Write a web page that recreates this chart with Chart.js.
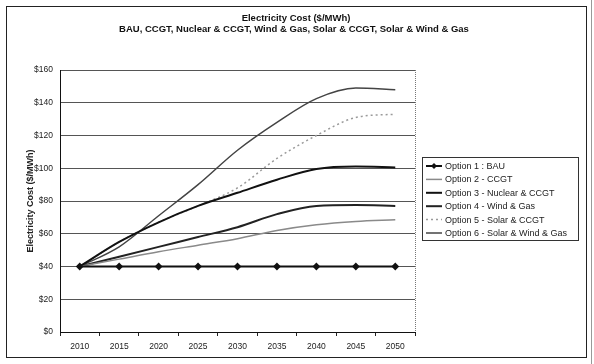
<!DOCTYPE html>
<html>
<head>
<meta charset="utf-8">
<script src="https://cdn.jsdelivr.net/npm/chart.js@4/dist/chart.umd.min.js"></script>
<style>
html,body{margin:0;padding:0;background:#fff;}
#wrap{width:594px;height:364px;position:relative;}
</style>
</head>
<body>
<div id="wrap"><canvas id="c" width="594" height="364"></canvas></div>
<script>
const years = ['2010','2015','2020','2025','2030','2035','2040','2045','2050'];
const bau = [40,40,40,40,40,40,40,40,40];
const ccgt = [40,44.5,49,53,57,62,65.5,67.5,68.5];
const nuclearCcgt = [40,55,67,77,85,93,99.5,101,100.5];
const windGas = [40,46,52,58,64,72,77,77.5,77];
const solarCcgt = [40,55,67,77,88,106,120,131,133];
const solarWindGas = [40,52,71,90,111,128,142.5,149,148];
const seriesLabels = ['Option 1 : BAU','Option 2 - CCGT','Option 3 - Nuclear & CCGT','Option 4 - Wind & Gas','Option 5 - Solar & CCGT','Option 6 - Solar & Wind & Gas'];
const yTicks = [0,20,40,60,80,100,120,140,160];
const titleLines = ['Electricity Cost ($/MWh)','BAU, CCGT, Nuclear & CCGT, Wind & Gas, Solar & CCGT, Solar & Wind & Gas'];
const yTitle = 'Electricity Cost ($/MWh)';

const FONT = 'Liberation Sans, Arial, sans-serif';

const decor = {
  id: 'decor',
  beforeDraw(chart) {
    const ctx = chart.ctx;
    ctx.save();
    ctx.fillStyle = '#fff';
    ctx.fillRect(0, 0, chart.width, chart.height);
    ctx.restore();
  },
  afterDraw(chart) {
    const ctx = chart.ctx;
    const a = chart.chartArea;
    ctx.save();
    // plot right border (dotted)
    ctx.strokeStyle = '#777';
    ctx.lineWidth = 1;
    ctx.setLineDash([1, 1]);
    ctx.beginPath();
    ctx.moveTo(Math.round(a.right) + 0.5, a.top);
    ctx.lineTo(Math.round(a.right) + 0.5, a.bottom);
    ctx.stroke();
    ctx.setLineDash([]);
    // outer chart border
    ctx.strokeStyle = '#222';
    ctx.strokeRect(6.5, 6.5, 580, 351);
    // scan edge line
    ctx.strokeStyle = '#999';
    ctx.beginPath();
    ctx.moveTo(591.5, 0);
    ctx.lineTo(591.5, 364);
    ctx.stroke();
    // title
    ctx.fillStyle = '#111';
    ctx.textAlign = 'center';
    ctx.textBaseline = 'middle';
    ctx.font = 'bold 9.5px ' + FONT;
    ctx.fillText(titleLines[0], 296, 18);
    ctx.fillText(titleLines[1], 294, 29);
    // legend
    const lx = 422, ly = 157, lw = 156, lh = 83;
    ctx.strokeStyle = '#333';
    ctx.lineWidth = 1;
    ctx.strokeRect(lx + 0.5, ly + 0.5, lw, lh);
    ctx.textAlign = 'left';
    ctx.font = '9px ' + FONT;
    chart.data.datasets.forEach((ds, i) => {
      const y = ly + 9 + i * 13.4;
      ctx.strokeStyle = ds.borderColor;
      ctx.lineWidth = ds.borderWidth;
      ctx.setLineDash(ds.borderDash || []);
      ctx.beginPath();
      ctx.moveTo(lx + 4, y);
      ctx.lineTo(lx + 20, y);
      ctx.stroke();
      ctx.setLineDash([]);
      if (ds.pointRadius > 0) {
        ctx.fillStyle = ds.borderColor;
        ctx.beginPath();
        ctx.moveTo(lx + 12, y - 3);
        ctx.lineTo(lx + 15, y);
        ctx.lineTo(lx + 12, y + 3);
        ctx.lineTo(lx + 9, y);
        ctx.closePath();
        ctx.fill();
      }
      ctx.fillStyle = '#222';
      ctx.fillText(ds.label, lx + 23, y + 0.5);
    });
    ctx.restore();
  }
};

const mk = (label, data, color, width, extra) => Object.assign({
  label, data, borderColor: color, backgroundColor: color, borderWidth: width,
  pointRadius: 0, fill: false, cubicInterpolationMode: 'monotone'
}, extra || {});

new Chart(document.getElementById('c'), {
  type: 'line',
  data: {
    labels: years,
    datasets: [
      mk(seriesLabels[0], bau, '#111', 2, {pointRadius: 2.5, pointStyle: 'rectRot', pointBackgroundColor: '#111', pointBorderColor: '#111'}),
      mk(seriesLabels[1], ccgt, '#8a8a8a', 1.5),
      mk(seriesLabels[2], nuclearCcgt, '#111', 2),
      mk(seriesLabels[3], windGas, '#222', 2),
      mk(seriesLabels[4], solarCcgt, '#9a9a9a', 1.5, {borderDash: [2, 3]}),
      mk(seriesLabels[5], solarWindGas, '#444', 1.5)
    ]
  },
  options: {
    responsive: false,
    animation: false,
    devicePixelRatio: 1,
    layout: {padding: {left: 22, right: 179, top: 70, bottom: 6}},
    plugins: {legend: {display: false}, title: {display: false}, tooltip: {enabled: false}},
    scales: {
      x: {
        offset: true,
        afterFit(s) { s.height = 26; },
        grid: {offset: true, drawOnChartArea: false, drawTicks: true, tickLength: 4, color: '#222'},
        border: {display: true, color: '#111', width: 1},
        ticks: {color: '#222', font: {family: FONT, size: 8.5}, padding: 6, maxRotation: 0, autoSkip: false}
      },
      y: {
        min: 0, max: 160,
        afterFit(s) { s.width = 38; },
        afterBuildTicks(s) { s.ticks = yTicks.map(v => ({value: v})); },
        grid: {color: '#555', lineWidth: 1, drawTicks: false},
        border: {display: true, color: '#111', width: 1},
        ticks: {color: '#222', font: {family: FONT, size: 8.5}, padding: 7, callback: v => '$' + v},
        title: {display: true, text: yTitle, color: '#222', font: {family: FONT, size: 9, weight: 'bold'}, padding: {top: 3, bottom: 0}}
      }
    }
  },
  plugins: [decor]
});
</script>
</body>
</html>
